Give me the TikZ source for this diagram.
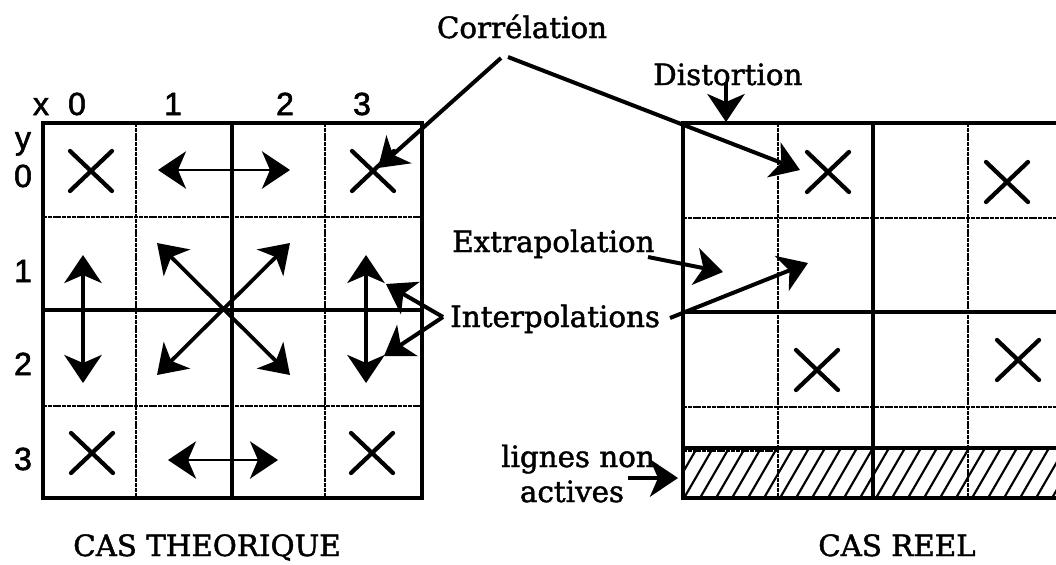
\documentclass[tikz,border=0pt]{standalone}
\usepackage{fontspec}
\setmainfont{DejaVu Serif}
\newfontfamily\lblfont{DejaVu Serif}[FakeBold=1.5]
\newfontfamily\labsans{Liberation Sans}[FakeBold=1.8]
\usetikzlibrary{arrows.meta}
\begin{document}
\begin{tikzpicture}[x=0.75pt,y=-0.75pt,
  lbl/.style={font=\lblfont\fontsize{22}{25}\selectfont, inner sep=0pt},
  num/.style={font=\labsans\fontsize{24}{27}\selectfont, inner sep=0pt, anchor=base},
  border/.style={line width=3pt},
  solidln/.style={line width=2.5pt},
  dotln/.style={line width=2pt, dash pattern=on 3pt off 0.6pt},
  cross/.style={line width=3.2pt, line cap=round},
  arr/.style={line width=2.6pt, -{Stealth[length=21pt,width=28pt,inset=6pt]}},
  dbl/.style={line width=2.2pt, {Stealth[length=21pt,width=28pt,inset=6pt]}-{Stealth[length=21pt,width=28pt,inset=6pt]}},
]
\path[use as bounding box, fill=white] (0,0) rectangle (1056,564);

% ---------- left grid ----------
\draw[dotln] (136,123) -- (136,498) (325,123) -- (325,498);
\draw[dotln] (43,217) -- (422,217) (43,406) -- (422,406);
\draw[solidln] (232,123) -- (232,498) (43,310) -- (422,310);
\draw[border] (43,123) rectangle (422,498);

% ---------- right grid ----------
\draw[dotln] (778,123) -- (778,498) (968,123) -- (968,498);
\draw[dotln] (683,218) -- (1056,218) (683,407) -- (1056,407);
\draw[dotln] (683,451) -- (778,451);
\begin{scope}
\clip (683,448) rectangle (1056,498);
\foreach \x in {636,652,...,1090} \draw[line width=1.6pt] (\x,498) -- (\x+29,448);
\end{scope}
\draw[solidln] (873,123) -- (873,498) (683,312) -- (1056,312) (683,448) -- (1056,448);
\draw[border] (1056,123) -- (683,123) -- (683,498) -- (1056,498);

% ---------- crosses ----------
\foreach \n/\p in {cA/{(91,171)}, cB/{(373,171)}, cC/{(92,453)}, cD/{(372,453)},
                   cE/{(828,172)}, cF/{(1007,182)}, cG/{(817,370)}, cH/{(1018,360)}}
  \draw[cross] \p +(-21,-20) -- +(21,20) \p +(-21,20) -- +(21,-20);

% ---------- axis labels ----------
\node[num] (lx) at (41,115) {x};
\node[num] (lx0) at (77,115) {0};
\node[num] (lx1) at (173,115) {1};
\node[num] (lx2) at (285,115) {2};
\node[num] (lx3) at (362,115) {3};
\node[num] (ly) at (23,149) {y};
\node[num] (ly0) at (23,187) {0};
\node[num] (ly1) at (23,282) {1};
\node[num] (ly2) at (23,375) {2};
\node[num] (ly3) at (23,470) {3};

% ---------- theoretical arrows ----------
\coordinate (h0a) at (158,170); \coordinate (h0b) at (290,170);
\coordinate (h3a) at (168,460); \coordinate (h3b) at (278,460);
\coordinate (v0a) at (83,255);  \coordinate (v0b) at (83,383);
\coordinate (v3a) at (366,255); \coordinate (v3b) at (366,383);
\coordinate (dA) at (157,243);  \coordinate (dB) at (290,375);
\coordinate (dC) at (290,243);  \coordinate (dD) at (157,375);
\draw[dbl] (h0a) -- (h0b);
\draw[dbl] (h3a) -- (h3b);
\draw[dbl, line width=2.6pt] (v0a) -- (v0b);
\draw[dbl, line width=2.6pt] (v3a) -- (v3b);
\draw[dbl, line width=2.8pt] (dA) -- (dB);
\draw[dbl, line width=2.8pt] (dC) -- (dD);

% ---------- labels ----------
\node[lbl, anchor=base] (corr) at (522,38) {Corrélation};
\node[lbl, anchor=base west] (dist) at (653,85) {Distortion};
\node[lbl, anchor=base west] (extra) at (452,252) {Extrapolation};
\node[lbl, anchor=base west] (inter) at (450,327) {Interpolations};
\node[lbl, anchor=base] (lign) at (578,467) {lignes non};
\node[lbl, anchor=base] (actv) at (572,502) {actives};
\node[lbl, anchor=base] (cast) at (207,556) {CAS THEORIQUE};
\node[lbl, anchor=base] (casr) at (897,556) {CAS REEL};

% ---------- connectors ----------
\coordinate (corrL) at (501,58);
\coordinate (corrR) at (508,57);
\coordinate (tCorrL) at (378,168);
\coordinate (tCorrR) at (800,170);
\draw[arr, line width=3pt] (corrL) -- (tCorrL);
\draw[arr, line width=3pt] (corrR) -- (tCorrR);

\coordinate (distS) at (726,82);
\coordinate (distT) at (726,122);
\draw[arr] (distS) -- (distT);

\coordinate (extS) at (648,257);
\coordinate (extT) at (723,272);
\draw[arr, line width=3pt] (extS) -- (extT);

\coordinate (intS) at (670,318);
\coordinate (intT) at (808,263);
\draw[arr, line width=3pt] (intS) -- (intT);

\coordinate (intV) at (443,317);
\coordinate (intU) at (386,284);
\coordinate (intD) at (384,356);
\draw[arr, line width=3pt] (intV) -- (intU);
\draw[arr, line width=3pt] (intV) -- (intD);

\coordinate (ligS) at (628,478);
\coordinate (ligT) at (678,478);
\draw[arr, line width=3pt] (ligS) -- (ligT);
\end{tikzpicture}
\end{document}
